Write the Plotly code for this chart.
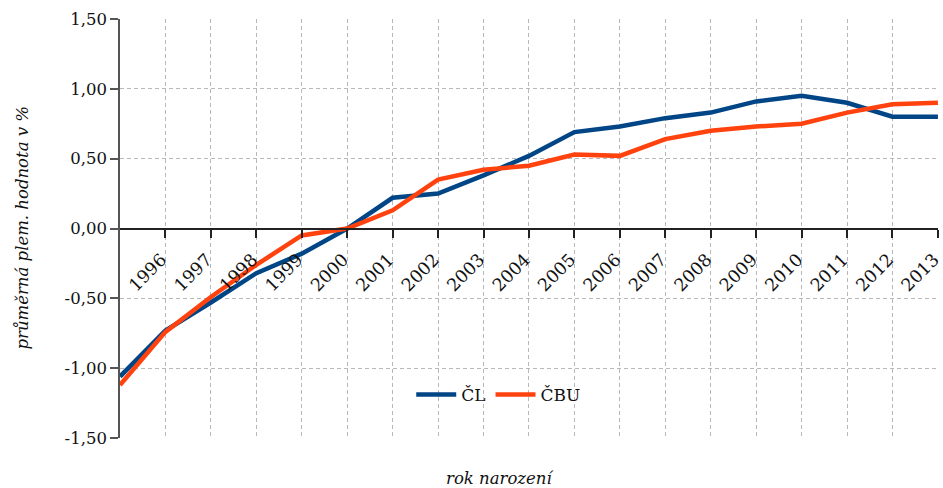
import plotly.graph_objects as go

# Birth years (1995 is the first point, shown without a label)
years = list(range(1995, 2014))
tick_years = list(range(1996, 2014))
tick_year_labels = [str(y) for y in tick_years]

# Average breeding value in % (base year 2000 = 0)
cl_values = [-1.06, -0.73, -0.53, -0.32, -0.18, 0.00, 0.22, 0.25, 0.38, 0.52,
             0.69, 0.73, 0.79, 0.83, 0.91, 0.95, 0.90, 0.80, 0.80]
cbu_values = [-1.12, -0.74, -0.49, -0.26, -0.05, 0.00, 0.13, 0.35, 0.42, 0.45,
              0.53, 0.52, 0.64, 0.70, 0.73, 0.75, 0.83, 0.89, 0.90]

y_ticks = [-1.5, -1.0, -0.5, 0.0, 0.5, 1.0, 1.5]
y_tick_labels = ["-1,50", "-1,00", "-0,50", "0,00", "0,50", "1,00", "1,50"]

FONT = "DejaVu Serif"
GRID = dict(showgrid=True, gridcolor="#b8b8b8", griddash="4px,3px", gridwidth=1)

fig = go.Figure()
fig.add_trace(go.Scatter(x=years, y=cl_values, mode="lines", name="ČL",
                         line=dict(color="#004586", width=4.5)))
fig.add_trace(go.Scatter(x=years, y=cbu_values, mode="lines", name="ČBU",
                         line=dict(color="#ff420e", width=4.5)))

fig.update_layout(
    width=943, height=488,
    margin=dict(l=120, r=5, t=19, b=50, autoexpand=False),
    paper_bgcolor="white", plot_bgcolor="white",
    font=dict(family=FONT, size=16, color="#111111"),
    showlegend=True,
    legend=dict(orientation="h", x=0.463, y=0.103, xanchor="center", yanchor="middle",
                bgcolor="rgba(0,0,0,0)", font=dict(size=17), itemwidth=40,
                tracegroupgap=0),
    xaxis=dict(
        range=[1995, 2013.002],
        tickmode="array", tickvals=tick_years, ticktext=tick_year_labels,
        tickangle=-45, tickfont=dict(size=17.5), ticklabeloverflow="allow",
        ticklabelstandoff=5, ticklabelshift=-4,
        anchor="free", position=0.5, automargin=False,
        showline=True, linecolor="#222222", linewidth=2,
        ticks="outside", ticklen=8, tickcolor="#222222", tickwidth=2,
        zeroline=False, **GRID,
    ),
    yaxis=dict(
        range=[-1.5, 1.5],
        tickmode="array", tickvals=y_ticks, ticktext=y_tick_labels,
        tickfont=dict(size=16.5), automargin=False,
        showline=True, linecolor="#555555", linewidth=1.5,
        ticks="outside", ticklen=8, tickcolor="#555555", tickwidth=1.5,
        zeroline=False, **GRID,
    ),
)

fig.add_annotation(text="průměrná plem. hodnota v %", textangle=-90,
                   xref="paper", yref="paper", x=0, y=0.5, xshift=-98,
                   xanchor="center", yanchor="middle", showarrow=False,
                   font=dict(family=FONT, size=16.5, style="italic"))
fig.add_annotation(text="rok narození",
                   xref="paper", yref="paper", x=0.4645, y=0, yshift=-40,
                   xanchor="center", yanchor="middle", showarrow=False,
                   font=dict(family=FONT, size=16.5, style="italic"))

fig.write_html("out.html")
